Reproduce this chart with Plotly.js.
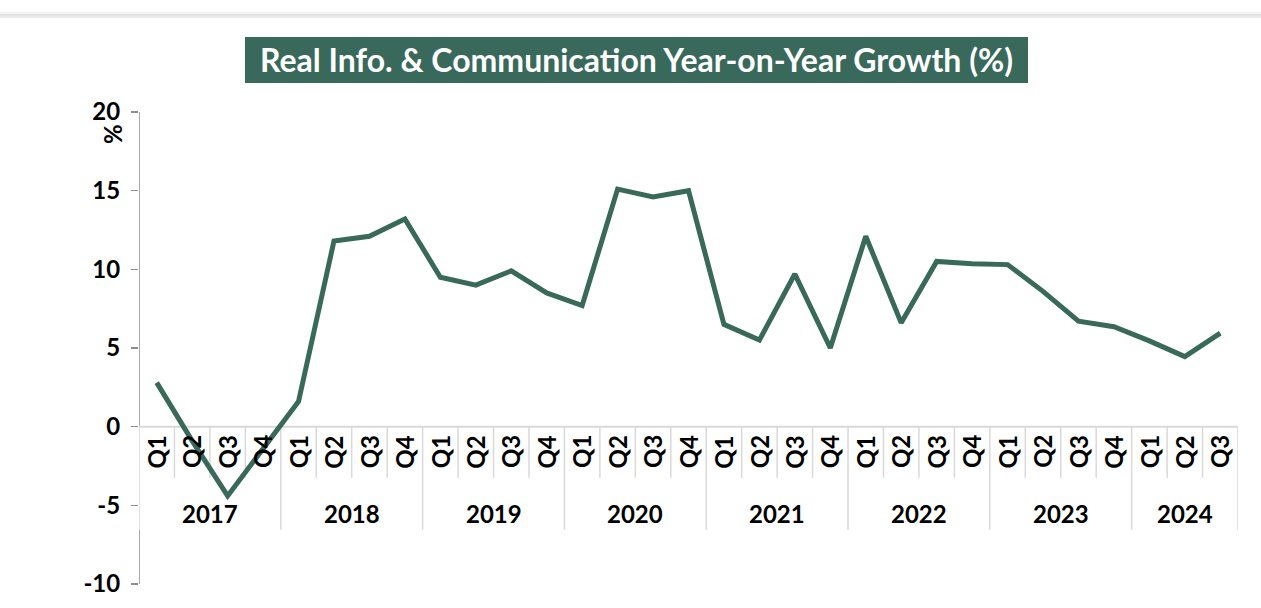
<!DOCTYPE html>
<html>
<head>
<meta charset="utf-8">
<script src="https://cdn.plot.ly/plotly-3.0.1.min.js"></script>
<style>
  html, body { margin: 0; padding: 0; background: #ffffff; }
  #chart { width: 1261px; height: 608px; }
</style>
</head>
<body>
<div id="chart"></div>
<script>
const years = ['2017', '2018', '2019', '2020', '2021', '2022', '2023', '2024'];
const quartersPerYear = [4, 4, 4, 4, 4, 4, 4, 3];
const quarterLabels = ['Q1', 'Q2', 'Q3', 'Q4'];
const growth = [
  2.8, -0.9, -4.4, -1.4,
  1.6, 11.8, 12.1, 13.2,
  9.5, 9.0, 9.9, 8.5,
  7.7, 15.1, 14.6, 15.0,
  6.5, 5.5, 9.7, 5.0,
  12.1, 6.6, 10.5, 10.35,
  10.3, 8.6, 6.7, 6.35,
  5.45, 4.45, 5.95
];
const yTicks = [-10, -5, 0, 5, 10, 15, 20];
const titleText = 'Real Info. &amp; Communication Year-on-Year Growth (%)';
const unitLabel = '%';

const GREEN = '#38695A';
const FONT = 'Lato, "Open Sans", sans-serif';
const LABEL_SIZE = 24;

// build category positions
const qNames = [];
const xIdx = [];
let k = 0;
years.forEach((y, yi) => {
  for (let q = 0; q < quartersPerYear[yi]; q++) {
    qNames.push(quarterLabels[q]);
    xIdx.push(k);
    k++;
  }
});
const n = xIdx.length;

const shapes = [];
const annotations = [];

const pxToPaperX = px => (px - 139) / 1099;
const pxToPaperY = py => (584.5 - py) / 472.5;
// top shadow band
[[13, '#f3f3f3', 2], [15, '#e2e2e2', 2], [17, '#ededed', 2]].forEach(([py, c, w]) => {
  shapes.push({type: 'line', xref: 'paper', yref: 'paper', x0: pxToPaperX(0), x1: pxToPaperX(1261),
    y0: pxToPaperY(py), y1: pxToPaperY(py), line: {color: c, width: w}, layer: 'below'});
});

// title box
shapes.push({type: 'rect', xref: 'paper', yref: 'paper',
  x0: pxToPaperX(245), x1: pxToPaperX(1028), y0: pxToPaperY(83), y1: pxToPaperY(37),
  fillcolor: GREEN, line: {width: 0}, layer: 'below'});

// y axis line (dark above 0 and below the category table)
shapes.push({type: 'line', xref: 'x', yref: 'y', x0: -0.5, x1: -0.5, y0: 0, y1: 20,
  line: {color: '#8c8c8c', width: 1.5}, layer: 'below'});
shapes.push({type: 'line', xref: 'x', yref: 'y', x0: -0.5, x1: -0.5, y0: -10, y1: -6.55,
  line: {color: '#8c8c8c', width: 1.5}, layer: 'below'});

// zero line / category table
shapes.push({type: 'line', xref: 'x', yref: 'y', x0: -0.5, x1: n - 0.5, y0: 0, y1: 0,
  line: {color: '#d9d9d9', width: 2}, layer: 'below'});
const yearBounds = [-0.5];
let acc = -0.5;
quartersPerYear.forEach(c => { acc += c; yearBounds.push(acc); });
for (let i = 0; i <= n; i++) {
  const xb = i - 0.5;
  const isYear = yearBounds.some(b => Math.abs(b - xb) < 1e-9);
  shapes.push({type: 'line', xref: 'x', yref: 'y', x0: xb, x1: xb, y0: 0,
    y1: isYear ? -6.55 : -3.25, line: {color: '#d9d9d9', width: 1.5}, layer: 'below'});
}

// quarter labels
xIdx.forEach((x, i) => {
  annotations.push({xref: 'x', yref: 'y', x: x, y: -1.6, text: qNames[i], showarrow: false,
    textangle: -90, xanchor: 'center', yanchor: 'middle',
    font: {family: FONT, size: LABEL_SIZE, color: '#000', weight: 'bold'}});
});
// year labels
years.forEach((y, yi) => {
  annotations.push({xref: 'x', yref: 'y', x: (yearBounds[yi] + yearBounds[yi + 1]) / 2, y: -5.55,
    text: y, showarrow: false, xanchor: 'center', yanchor: 'middle',
    font: {family: FONT, size: LABEL_SIZE, color: '#000', weight: 'bold'}});
});
// unit label
annotations.push({xref: 'paper', yref: 'paper', x: pxToPaperX(113), y: pxToPaperY(134),
  text: unitLabel, showarrow: false, textangle: -90, xanchor: 'center', yanchor: 'middle',
  font: {family: FONT, size: LABEL_SIZE, color: '#000', weight: 'bold'}});

const trace = {
  type: 'scatter', mode: 'lines', x: xIdx, y: growth,
  line: {color: GREEN, width: 5, shape: 'linear'},
  hoverinfo: 'x+y', cliponaxis: false
};

const layout = {
  width: 1261, height: 608,
  margin: {l: 139, r: 23, t: 112, b: 23.5, pad: 0},
  paper_bgcolor: '#ffffff', plot_bgcolor: '#ffffff',
  showlegend: false,
  title: {text: titleText, x: 636.5 / 1261, y: 1 - 61 / 608, xref: 'container', yref: 'container',
    xanchor: 'center', yanchor: 'middle',
    font: {family: FONT, size: 32, color: '#ffffff', weight: 'bold'}},
  xaxis: {type: 'linear', range: [-0.5, n - 0.5], showgrid: false, zeroline: false,
    showline: false, showticklabels: false, ticks: '', fixedrange: true},
  yaxis: {range: [-10, 20], tickvals: yTicks, ticktext: yTicks.map(String),
    showgrid: false, zeroline: false, showline: false,
    ticks: 'outside', ticklen: 7, tickwidth: 1.5, tickcolor: '#8c8c8c',
    tickfont: {family: FONT, size: LABEL_SIZE, color: '#000', weight: 'bold'},
    ticklabelstandoff: 6, fixedrange: true},
  shapes: shapes,
  annotations: annotations
};

Plotly.newPlot('chart', [trace], layout, {displayModeBar: false, staticPlot: true});
</script>
</body>
</html>
